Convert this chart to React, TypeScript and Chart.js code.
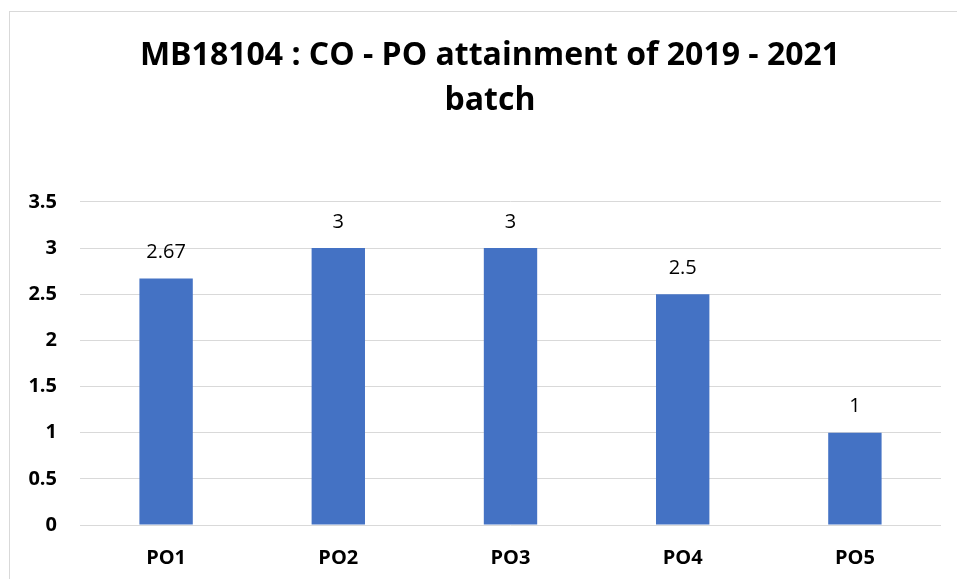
import React, { useEffect, useRef } from "react";
import { Chart, registerables } from "chart.js";

Chart.register(...registerables);

const categories = ["PO1", "PO2", "PO3", "PO4", "PO5"];
const values = [2.67, 3, 3, 2.5, 1];
const valueLabels = ["2.67", "3", "3", "2.5", "1"];
const yTickLabels = ["0", "0.5", "1", "1.5", "2", "2.5", "3", "3.5"];
const titleLines = ["MB18104 : CO - PO attainment of 2019 - 2021", "batch"];

const FONT = "'Open Sans', 'DejaVu Sans', sans-serif";

const framePlugin = {
  id: "frame",
  beforeDraw(chart: any) {
    const ctx = chart.ctx;
    ctx.save();
    ctx.fillStyle = "#ffffff";
    ctx.fillRect(0, 0, chart.width, chart.height);
    ctx.strokeStyle = "#d9d9d9";
    ctx.lineWidth = 1;
    ctx.strokeRect(9.5, 11.5, chart.width + 20, chart.height + 20);
    ctx.restore();
  },
};

// let the y tick labels extend left of the axis box without being clipped
const unclipPlugin = {
  id: "unclipY",
  afterLayout(chart: any) {
    const y = chart.scales.y;
    if (y) y.left = 0;
  },
};

const valueLabelPlugin = {
  id: "valueLabels",
  afterDatasetsDraw(chart: any) {
    const ctx = chart.ctx;
    const meta = chart.getDatasetMeta(0);
    ctx.save();
    ctx.font = `400 20px ${FONT}`;
    ctx.fillStyle = "#000000";
    ctx.textAlign = "center";
    ctx.textBaseline = "middle";
    meta.data.forEach((bar: any, i: number) => {
      ctx.fillText(valueLabels[i], bar.x, bar.y - 26);
    });
    ctx.restore();
  },
};

export default function App() {
  const ref = useRef<HTMLCanvasElement>(null);
  useEffect(() => {
    document.body.style.margin = "0";
    const chart = new Chart(ref.current!, {
      type: "bar",
      data: {
        labels: categories,
        datasets: [
          {
            data: values,
            backgroundColor: "#4472C4",
            barPercentage: 0.31,
            categoryPercentage: 1,
          },
        ],
      },
      options: {
        responsive: false,
        animation: false,
        devicePixelRatio: 1,
        layout: { padding: { left: 39, right: 16, top: 0, bottom: 0 } },
        plugins: {
          legend: { display: false },
          tooltip: { enabled: false },
          title: {
            display: true,
            text: titleLines,
            color: "#000000",
            font: { family: FONT, size: 32, weight: "bold", lineHeight: 1.39 },
            padding: { top: 34, bottom: 79 },
          },
        },
        scales: {
          x: {
            grid: { display: false, drawTicks: false },
            border: { display: false },
            ticks: {
              color: "#000000",
              font: { family: FONT, size: 20, weight: "bold" },
              padding: 21,
            },
            afterFit: (axis: any) => {
              axis.height = 54;
            },
          },
          y: {
            min: 0,
            max: 3.5,
            ticks: {
              stepSize: 0.5,
              color: "#000000",
              padding: 23,
              font: { family: FONT, size: 20, weight: "bold" },
              callback: (_v: any, i: number) => yTickLabels[i],
            },
            grid: { color: "#d9d9d9", lineWidth: 1, drawTicks: false },
            border: { display: false },
            afterFit: (axis: any) => {
              axis.width = 41;
            },
          },
        },
      },
      plugins: [framePlugin, unclipPlugin, valueLabelPlugin],
    });
    return () => chart.destroy();
  }, []);
  return (
    <div style={{ width: 957, height: 579, overflow: "hidden" }}>
      <canvas ref={ref} width={957} height={579} />
    </div>
  );
}
